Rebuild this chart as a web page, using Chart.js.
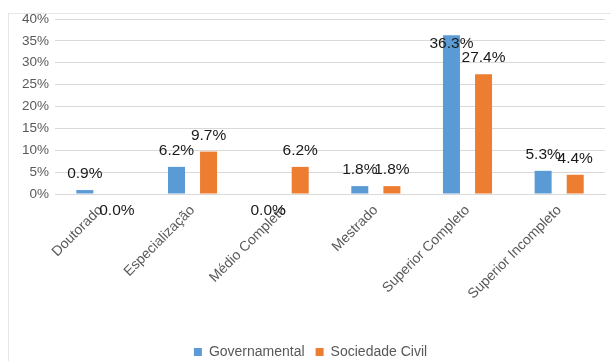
<!DOCTYPE html>
<html>
<head>
<meta charset="utf-8">
<script src="https://cdn.jsdelivr.net/npm/chart.js@4/dist/chart.umd.min.js"></script>
<style>
    html, body { margin: 0; padding: 0; background: #fff; }
    #wrap { position: relative; width: 611px; height: 361px; }
    #frame {
        position: absolute; left: 8px; top: 13px; right: 0; bottom: 0;
        border-left: 1px solid #e6e6e6; border-top: 1px solid #e6e6e6;
    }
    canvas { position: absolute; left: 0; top: 0; }
</style>
</head>
<body>
<div id="wrap">
    <div id="frame"></div>
    <canvas id="chart" width="611" height="361"></canvas>
</div>
<script>
const categories = ['Doutorado', 'Especialização', 'Médio Completo', 'Mestrado', 'Superior Completo', 'Superior Incompleto'];
const governamental = [0.9, 6.2, 0.0, 1.8, 36.3, 5.3];
const sociedadeCivil = [0.0, 9.7, 6.2, 1.8, 27.4, 4.4];
const yTicks = [0, 5, 10, 15, 20, 25, 30, 35, 40];

const colors = {
    blue: '#5b9bd5',
    orange: '#ed7d31',
    grid: '#d9d9d9',
    text: '#595959',
    label: '#1a1a1a',
};

const font = 'Liberation Sans, Arial, sans-serif';

// value labels above the bars, zero values sit under the axis like the original
const valueLabels = {
    id: 'valueLabels',
    afterDatasetsDraw(chart) {
        const { ctx, chartArea } = chart;
        ctx.save();
        ctx.font = '15.5px ' + font;
        ctx.fillStyle = colors.label;
        ctx.textAlign = 'center';
        ctx.textBaseline = 'middle';
        chart.data.datasets.forEach((ds, i) => {
            chart.getDatasetMeta(i).data.forEach((bar, j) => {
                const v = ds.data[j];
                let y;
                if (v === 0) {
                    y = bar.y + 17;
                } else {
                    y = Math.max(bar.y - 16, chartArea.top + 25);
                }
                ctx.fillText(v.toFixed(1) + '%', bar.x, y);
            });
        });
        ctx.restore();
    },
};

new Chart(document.getElementById('chart'), {
    type: 'bar',
    data: {
        labels: categories,
        datasets: [
            { label: 'Governamental', data: governamental, backgroundColor: colors.blue },
            { label: 'Sociedade Civil', data: sociedadeCivil, backgroundColor: colors.orange },
        ],
    },
    options: {
        responsive: false,
        animation: false,
        categoryPercentage: 0.7,
        barPercentage: 0.53,
        layout: { padding: { left: 16, right: 6, top: 19, bottom: -8 } },
        scales: {
            x: {
                grid: { display: false },
                border: { color: colors.grid },
                afterFit(axis) {
                    axis.height = 140;
                },
                ticks: {
                    color: colors.text,
                    font: { family: font, size: 14 },
                    maxRotation: 45,
                    minRotation: 45,
                    padding: 0,
                },
            },
            y: {
                min: 0,
                max: 40,
                afterBuildTicks(axis) {
                    axis.ticks = yTicks.map((v) => ({ value: v }));
                },
                grid: { color: colors.grid, drawTicks: false },
                border: { display: false },
                ticks: {
                    color: colors.text,
                    font: { family: font, size: 13.5 },
                    padding: 6,
                    callback: (v) => v + '%',
                },
            },
        },
        plugins: {
            tooltip: { enabled: false },
            legend: {
                position: 'bottom',
                labels: {
                    color: colors.text,
                    font: { family: font, size: 14 },
                    boxWidth: 8,
                    boxHeight: 8,
                    padding: 11,
                },
            },
        },
    },
    plugins: [valueLabels],
});
</script>
</body>
</html>
